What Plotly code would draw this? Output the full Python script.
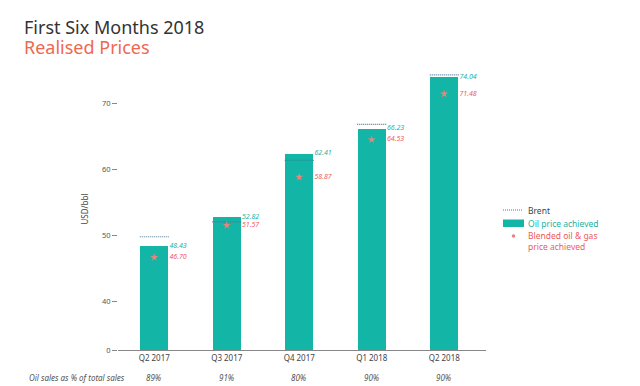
import plotly.graph_objects as go

# ---- data ----
quarters = ["Q2 2017", "Q3 2017", "Q4 2017", "Q1 2018", "Q2 2018"]
oil_price = [48.43, 52.82, 62.41, 66.23, 74.04]
blended_price = [46.70, 51.57, 58.87, 64.53, 71.48]
brent = [49.83, 52.08, 61.39, 66.86, 74.35]
oil_share = ["89%", "91%", "80%", "90%", "90%"]
ytick_values = [0, 40, 50, 60, 70]
legend_labels = ["Brent", "Oil price achieved", "Blended oil & gas<br>price achieved"]

# broken axis: 0 .. 40 compressed
BREAK = 40
GAP = 7.33  # display units between 0 and 40


def d(v):
    return v if v < BREAK else v - BREAK + GAP


TEAL = "#12b5a6"
TEAL_TXT = "#22b0a3"
RED = "#ee5a5a"
MARK = "#e9857b"
BRENT_C = "#4f7c96"
GREY = "#555555"
FONT = "Noto Sans"

# pixel geometry of the plot area
L, R, T, B = 110, 478, 60, 342
W, H = R - L, B - T


def px(x):
    return (x - L) / W


def py(y):
    return (B - y) / H


xs = list(range(len(quarters)))
BW = 0.38

fig = go.Figure()

bx, by = [], []
for i, v in zip(xs, brent):
    bx += [i - BW / 2 - 0.01, i + BW / 2 + 0.01, None]
    by += [d(v), d(v), None]

fig.add_trace(go.Bar(
    x=xs, y=[d(v) for v in oil_price], width=BW, marker_color=TEAL,
    marker_line_width=0, name="Oil price achieved",
    hovertext=[str(v) for v in oil_price],
))
fig.add_trace(go.Scatter(
    x=bx, y=by, mode="lines", line=dict(color=BRENT_C, width=1.2, dash="1px,1px"),
    name="Brent",
))
fig.add_trace(go.Scatter(
    x=xs, y=[d(v) for v in blended_price], mode="markers",
    marker=dict(symbol="star", size=6, color=MARK),
    name="Blended oil & gas price achieved",
))
fig.add_trace(go.Scatter(
    x=[i + BW / 2 + 0.02 for i in xs], y=[d(v) for v in oil_price], mode="text",
    text=["%.2f" % v for v in oil_price], textposition="middle right",
    textfont=dict(family=FONT, size=7, color=TEAL_TXT, style="italic"),
    showlegend=False, hoverinfo="skip",
))
fig.add_trace(go.Scatter(
    x=[i + BW / 2 + 0.02 for i in xs], y=[d(v) for v in blended_price], mode="text",
    text=["%.2f" % v for v in blended_price], textposition="middle right",
    textfont=dict(family=FONT, size=7, color=RED, style="italic"),
    showlegend=False, hoverinfo="skip",
))

annotations = []
ROW_Y = py(369)
annotations.append(dict(
    text="<i>Oil sales as % of total sales</i>", xref="paper", yref="paper",
    x=px(119), xanchor="right", y=ROW_Y, yanchor="middle",
    showarrow=False, font=dict(family=FONT, size=8, color=GREY),
))
for i, s in zip(xs, oil_share):
    annotations.append(dict(
        text="<i>%s</i>" % s, x=i, xref="x", y=ROW_Y, yref="paper",
        yanchor="middle", showarrow=False, font=dict(family=FONT, size=8, color=GREY),
    ))
annotations.append(dict(
    text="First Six Months 2018", xref="paper", yref="paper",
    x=px(14), xanchor="left", y=py(19), yanchor="middle",
    showarrow=False, font=dict(family=FONT, size=18, color="#333333"),
))
annotations.append(dict(
    text="Realised Prices", xref="paper", yref="paper",
    x=px(14), xanchor="left", y=py(39), yanchor="middle",
    showarrow=False, font=dict(family=FONT, size=18, color="#f0674f"),
))

# manual legend
leg_colors = ["#444444", TEAL_TXT, RED]
leg_y = [202, 215, 233]
for lab, c, yy in zip(legend_labels, leg_colors, leg_y):
    annotations.append(dict(
        text=lab, xref="paper", yref="paper", x=px(518), xanchor="left",
        y=py(yy), yanchor="middle", align="left", showarrow=False,
        font=dict(family=FONT, size=8.5, color=c),
    ))

shapes = [
    dict(type="line", xref="paper", yref="paper", x0=px(495), x1=px(515),
         y0=py(202), y1=py(202), line=dict(color=BRENT_C, width=1.2, dash="1px,1px")),
    dict(type="rect", xref="paper", yref="paper", x0=px(495), x1=px(516),
         y0=py(219), y1=py(211.5), fillcolor=TEAL, line=dict(width=0)),
    dict(type="circle", xref="paper", yref="paper", xsizemode="pixel", ysizemode="pixel",
         xanchor=px(505.5), yanchor=py(228), x0=-1.8, x1=1.8, y0=-1.8, y1=1.8,
         fillcolor=MARK, line=dict(width=0)),
]

fig.update_layout(
    width=640, height=386,
    margin=dict(l=L, r=640 - R, t=T, b=386 - B),
    paper_bgcolor="white", plot_bgcolor="white",
    font=dict(family=FONT, size=8, color=GREY),
    showlegend=False,
    xaxis=dict(
        range=[-0.5, 4.576], tickvals=xs, ticktext=quarters, showgrid=False,
        zeroline=False, showline=True, linecolor="#888888", linewidth=1,
        ticks="", tickfont=dict(size=8, color="#444"),
    ),
    yaxis=dict(
        range=[0, H / 6.6], tickvals=[d(v) for v in ytick_values],
        ticktext=[str(v) for v in ytick_values], showgrid=False, zeroline=False,
        showline=False, ticks="outside", ticklen=5, tickcolor="#888888",
        tickfont=dict(size=7.5, color=GREY),
        title=dict(text="USD/bbl", font=dict(size=8, color="#444"), standoff=12),
    ),
    annotations=annotations,
    shapes=shapes,
    bargap=0,
)

fig.write_html("out.html")
